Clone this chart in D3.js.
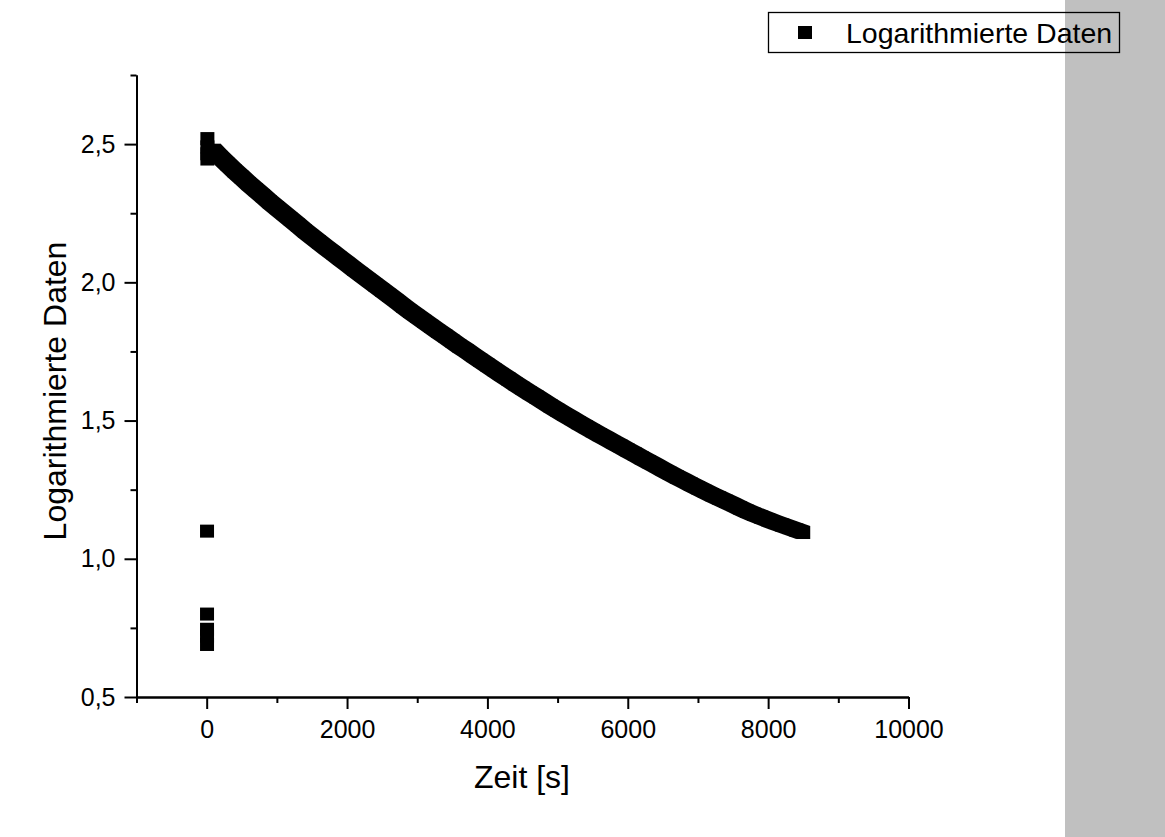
<!DOCTYPE html>
<html lang="de">
<head>
<meta charset="UTF-8" />
<title>Logarithmierte Daten</title>
<style>
  html, body { margin: 0; padding: 0; background: #fff; }
  svg { display: block; font-family: Arial, "Liberation Sans", sans-serif; }
</style>
</head>
<body>
<script src="https://cdn.jsdelivr.net/npm/d3@7"></script>
<div id="app"></div>
<script>
// Daten: Messpunkte am Anfang (t ~ 0 s)
const startZeit  = [10, 10, 10, 10, 5, 5, 5, 5, 5];
const startWerte = [2.52, 2.49, 2.465, 2.446, 1.10, 0.80, 0.745, 0.72, 0.69];

// Daten: abklingende Kurve
const zeit = [100, 200, 300, 400, 500, 600, 700, 800, 900, 1000,
  1100, 1200, 1300, 1400, 1500, 1600, 1700, 1800, 1900, 2000,
  2100, 2200, 2300, 2400, 2500, 2600, 2700, 2800, 2900, 3000,
  3100, 3200, 3300, 3400, 3500, 3600, 3700, 3800, 3900, 4000,
  4100, 4200, 4300, 4400, 4500, 4600, 4700, 4800, 4900, 5000,
  5100, 5200, 5300, 5400, 5500, 5600, 5700, 5800, 5900, 6000,
  6100, 6200, 6300, 6400, 6500, 6600, 6700, 6800, 6900, 7000,
  7100, 7200, 7300, 7400, 7500, 7600, 7700, 7800, 7900, 8000,
  8100, 8200, 8300, 8400, 8500];
const werte = [2.478, 2.452, 2.427, 2.403, 2.380, 2.357, 2.335, 2.313, 2.291, 2.270,
  2.249, 2.228, 2.207, 2.186, 2.166, 2.146, 2.126, 2.107, 2.087, 2.068,
  2.048, 2.029, 2.010, 1.991, 1.972, 1.953, 1.934, 1.914, 1.895, 1.877,
  1.859, 1.841, 1.823, 1.806, 1.788, 1.770, 1.753, 1.735, 1.718, 1.701,
  1.684, 1.667, 1.650, 1.633, 1.617, 1.601, 1.585, 1.569, 1.553, 1.537,
  1.522, 1.507, 1.492, 1.478, 1.463, 1.449, 1.435, 1.421, 1.407, 1.393,
  1.379, 1.365, 1.351, 1.337, 1.323, 1.309, 1.296, 1.283, 1.270, 1.257,
  1.244, 1.232, 1.220, 1.208, 1.196, 1.184, 1.172, 1.161, 1.151, 1.141,
  1.131, 1.122, 1.113, 1.104, 1.095];

// Achsen
const xTicks = [0, 2000, 4000, 6000, 8000, 10000];
const xMinorTicks = [-1000, 1000, 3000, 5000, 7000, 9000];
const yTicks = [0.5, 1.0, 1.5, 2.0, 2.5];
const yTickLabels = ["0,5", "1,0", "1,5", "2,0", "2,5"];
const yMinorTicks = [0.75, 1.25, 1.75, 2.25, 2.75];
const legendeText = "Logarithmierte Daten";

const w = 1165;
const h = 837;
const mw = 14;   // Markerbreite
const mh = 13;   // Markerhöhe

const svg = d3.select("#app")
  .append("svg")
  .attr("width", w)
  .attr("height", h);

//Grauer Rand rechts
svg.append("rect")
  .attr("x", 1065).attr("y", 0)
  .attr("width", w - 1065).attr("height", h)
  .attr("fill", "#c0c0c0");

//Skalen
const xScale = d3.scaleLinear()
  .domain([-1000, 10000])
  .range([136.5, 908.5]);

const yScale = d3.scaleLinear()
  .domain([0.5, 2.75])
  .range([697, 75]);

const kurve = zeit.map((t, i) => ({ t: t, v: werte[i] }));
const punkte = kurve
  .concat(startZeit.map((t, i) => ({ t: t, v: startWerte[i] })));

//Dicht liegende Quadrate: Band zwischen den Ecken der Marker
const oben = kurve.map(d => [xScale(d.t) + mw / 2, yScale(d.v) - mh / 2]);
const unten = kurve.map(d => [xScale(d.t) - mw / 2, yScale(d.v) + mh / 2]).reverse();
svg.append("path")
  .attr("d", d3.line()(oben.concat(unten)) + "Z")
  .attr("fill", "#000");

//Punkte
svg.append("g")
  .selectAll("rect")
  .data(punkte)
  .enter()
  .append("rect")
  .attr("x", d => xScale(d.t) - mw / 2)
  .attr("y", d => yScale(d.v) - mh / 2)
  .attr("width", mw)
  .attr("height", mh)
  .attr("fill", "#000");

//AXIS
const xAxis = d3.axisBottom(xScale)
  .tickValues(xTicks)
  .tickFormat(d3.format("d"))
  .tickSize(12)
  .tickSizeOuter(0)
  .tickPadding(11);

const xAxisMinor = d3.axisBottom(xScale)
  .tickValues(xMinorTicks)
  .tickFormat("")
  .tickSize(6)
  .tickSizeOuter(0);

const yAxis = d3.axisLeft(yScale)
  .tickValues(yTicks)
  .tickFormat((d, i) => yTickLabels[i])
  .tickSize(12)
  .tickSizeOuter(0)
  .tickPadding(9);

const yAxisMinor = d3.axisLeft(yScale)
  .tickValues(yMinorTicks)
  .tickFormat("")
  .tickSize(6)
  .tickSizeOuter(0);

[xAxisMinor, xAxis].forEach(ax => {
  svg.append("g")
    .attr("transform", "translate(0," + 697 + ")")
    .call(ax);
});
[yAxisMinor, yAxis].forEach(ax => {
  svg.append("g")
    .attr("transform", "translate(" + 136.5 + ",0)")
    .call(ax);
});

svg.selectAll(".domain, .tick line")
  .attr("stroke", "#000")
  .attr("stroke-width", 2);
svg.selectAll(".tick text")
  .attr("fill", "#000")
  .style("font-size", "25px")
  .style("font-family", "Arial, 'Liberation Sans', sans-serif");

//Achsentitel
svg.append("text")
  .attr("x", 522)
  .attr("y", 788)
  .attr("text-anchor", "middle")
  .style("font-size", "32px")
  .text("Zeit [s]");

svg.append("text")
  .attr("transform", "translate(66," + 391 + ") rotate(-90)")
  .attr("text-anchor", "middle")
  .style("font-size", "32px")
  .text("Logarithmierte Daten");

//Legende
const legende = svg.append("g");
legende.append("rect")
  .attr("x", 768.5).attr("y", 12.5)
  .attr("width", 351).attr("height", 40)
  .attr("fill", "none")
  .attr("stroke", "#000")
  .attr("stroke-width", 1.3);
legende.append("rect")
  .attr("x", 798).attr("y", 26)
  .attr("width", mw).attr("height", mh)
  .attr("fill", "#000");
legende.append("text")
  .attr("x", 846)
  .attr("y", 42.5)
  .style("font-size", "28.5px")
  .text(legendeText);
</script>
</body>
</html>
